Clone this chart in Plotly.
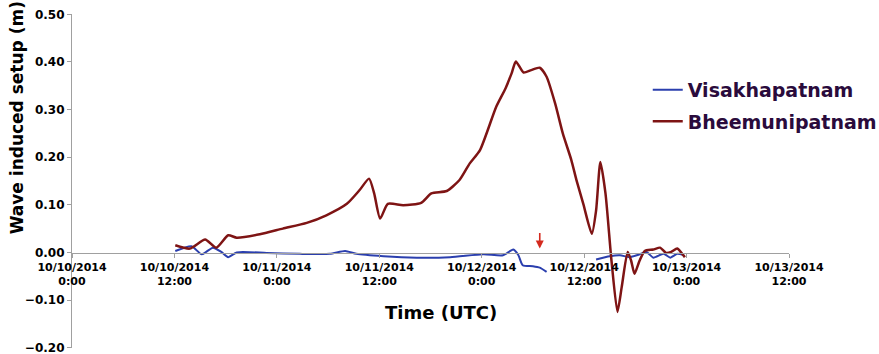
import pandas as pd
import plotly.graph_objects as go

START = pd.Timestamp("2014-10-10 00:00")

# Bheemunipatnam: hours after 10/10/2014 0:00 and setup (m)
bheem_hours = [12.1, 13.8, 15.6, 16.9, 18.3, 19.3, 22.0, 24.7, 27.5, 29.8, 32.2, 33.7,
               34.8, 35.4, 36.1, 37.0, 38.8, 40.9, 42.1, 43.9, 45.4, 46.6, 47.8, 49.7,
               50.8, 51.5, 52.0, 52.9, 53.8, 54.8, 55.6, 56.6, 57.5, 58.5, 59.1, 59.9,
               60.9, 61.4, 61.9, 62.5, 63.2, 63.9, 64.4, 65.1, 65.5, 65.9, 66.5, 67.1,
               68.1, 68.9, 69.6, 70.2, 70.9, 71.4, 71.8]
bheem_setup = [0.015, 0.008, 0.027, 0.010, 0.036, 0.031, 0.038, 0.050, 0.062, 0.078, 0.102, 0.131,
               0.155, 0.124, 0.071, 0.102, 0.099, 0.104, 0.124, 0.129, 0.152, 0.187, 0.215, 0.306,
               0.345, 0.376, 0.401, 0.378, 0.383, 0.388, 0.369, 0.313, 0.250, 0.194, 0.152, 0.102,
               0.039, 0.088, 0.190, 0.124, -0.017, -0.125, -0.073, 0.001, -0.017, -0.045, -0.017, 0.003,
               0.006, 0.010, -0.001, 0.001, 0.008, -0.001, -0.010]

# Visakhapatnam: None marks the gap in the record
visakha_hours = [12.1, 14.0, 15.2, 16.5, 17.5, 18.3, 19.3, 22.8, 26.7, 30.2, 32.0, 33.3,
                 36.5, 40.4, 44.3, 48.2, 50.5, 51.7, 52.3, 52.8, 54.0, 54.8, 55.6,
                 58.0,
                 61.4, 63.0, 64.2, 65.3, 66.5, 67.3, 68.1, 69.3, 70.1, 70.9, 71.7]
visakha_setup = [0.003, 0.013, -0.004, 0.010, 0.001, -0.010, 0.000, -0.001, -0.003, -0.003, 0.003, -0.003,
                 -0.008, -0.011, -0.010, -0.004, -0.006, 0.006, -0.006, -0.027, -0.029, -0.032, -0.041,
                 None,
                 -0.015, -0.008, -0.006, -0.010, -0.004, 0.001, -0.011, -0.003, -0.011, -0.003, -0.006]

tick_hours = [0, 12, 24, 36, 48, 60, 72, 84]
tick_labels = ["10/10/2014<br>0:00", "10/10/2014<br>12:00", "10/11/2014<br>0:00",
               "10/11/2014<br>12:00", "10/12/2014<br>0:00", "10/12/2014<br>12:00",
               "10/13/2014<br>0:00", "10/13/2014<br>12:00"]
y_ticks = [-0.20, -0.10, 0.00, 0.10, 0.20, 0.30, 0.40, 0.50]

# Landfall marker
arrow_hour = 54.8
arrow_tip, arrow_tail = 0.008, 0.044


def to_time(hours):
    return [START + pd.Timedelta(hours=h) for h in hours]


FONT = "DejaVu Sans"

fig = go.Figure()
fig.add_trace(go.Scatter(
    x=to_time(visakha_hours), y=visakha_setup, name="Visakhapatnam", legendgroup="v",
    mode="lines", line=dict(color="#2b3fae", width=2, shape="spline", smoothing=0.6),
    connectgaps=False))
fig.add_trace(go.Scatter(
    x=to_time(bheem_hours), y=bheem_setup, name="Bheemunipatnam", legendgroup="b",
    mode="lines", line=dict(color="#7e1414", width=2.5, shape="spline", smoothing=0.6)))

fig.add_annotation(
    x=to_time([arrow_hour])[0], y=arrow_tip,
    ax=to_time([arrow_hour])[0], ay=arrow_tail,
    xref="x", yref="y", axref="x", ayref="y",
    text="", showarrow=True, arrowhead=2, arrowsize=1, arrowwidth=1.6,
    arrowcolor="#d42a1e")

fig.add_annotation(
    text="Time (UTC)", xref="paper", yref="paper", x=0.515, y=0.105,
    xanchor="center", yanchor="middle",
    showarrow=False, font=dict(family=FONT, size=18, color="black", weight="bold"))
fig.add_annotation(
    text="Wave induced setup (m)", xref="paper", yref="paper", x=-0.077, y=0.69,
    xanchor="center", yanchor="middle", textangle=-90,
    showarrow=False, font=dict(family=FONT, size=17, color="black", weight="bold"))

fig.update_layout(
    width=879, height=354,
    margin=dict(l=72, r=90, t=14, b=6, autoexpand=False),
    plot_bgcolor="white", paper_bgcolor="white",
    showlegend=True,
    legend=dict(x=0.803, y=0.83, xanchor="left", yanchor="top",
                font=dict(family=FONT, size=19, color="#2a0b3c", weight="bold"),
                bgcolor="rgba(0,0,0,0)", tracegroupgap=4, itemwidth=30),
    xaxis=dict(
        range=[START, START + pd.Timedelta(hours=84)],
        tickvals=to_time(tick_hours), ticktext=tick_labels,
        anchor="free", position=2 / 7,
        showline=True, linecolor="#a0a0a0", linewidth=1.2,
        ticks="outside", ticklen=4, tickcolor="#a0a0a0",
        showgrid=False, zeroline=False,
        tickfont=dict(family=FONT, size=11, color="black", weight="bold")),
    yaxis=dict(
        range=[-0.2008, 0.5008], tickvals=y_ticks, tickformat=".2f",
        ticklabeloverflow="allow",
        showline=True, linecolor="#a0a0a0", linewidth=1.2,
        ticks="outside", ticklen=4, tickcolor="#a0a0a0",
        showgrid=False, zeroline=False,
        tickfont=dict(family=FONT, size=12, color="black", weight="bold")),
)

fig.write_html("out.html")
